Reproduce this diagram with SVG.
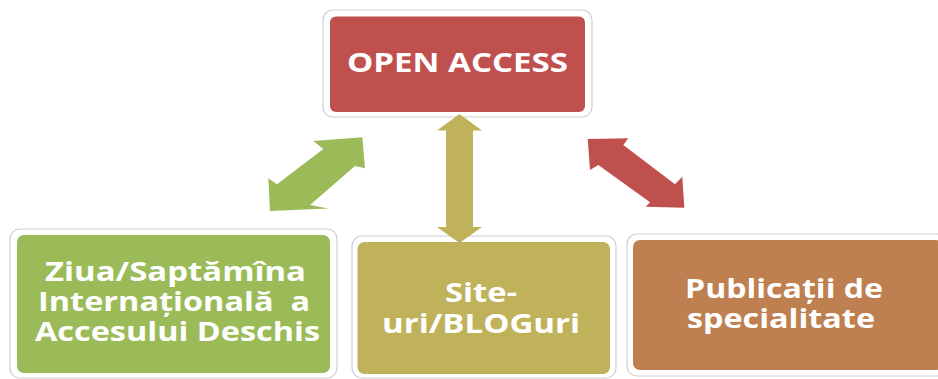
<svg xmlns="http://www.w3.org/2000/svg" width="938" height="379" viewBox="0 0 938 379">
  <style>
    .frame { fill: #ffffff; stroke: #cfcfcf; stroke-width: 1.2; }
    .lbl { font-family: "Open Sans", "Liberation Sans", "DejaVu Sans", sans-serif; font-weight: bold; font-size: 27px; fill: #ffffff; text-anchor: middle; }
    .red { fill: #C0504D; }
    .green { fill: #9BBB59; }
    .olive { fill: #BFB25A; }
    .brown { fill: #BE8050; }
  </style>
  <rect width="938" height="379" fill="#ffffff"/>

  <g id="node-open-access">
    <rect class="frame" x="323" y="10" width="269" height="107" rx="10"/>
    <rect class="red" x="330" y="16.5" width="255" height="95.5" rx="6"/>
    <text class="lbl" x="457.5" y="72" textLength="221" lengthAdjust="spacingAndGlyphs">OPEN ACCESS</text>
  </g>

  <g id="node-ziua">
    <rect class="frame" x="10" y="229" width="327" height="149" rx="10"/>
    <rect class="green" x="17" y="235" width="313" height="138" rx="7"/>
    <text class="lbl" x="175.5" y="281" textLength="261" lengthAdjust="spacingAndGlyphs">Ziua/Saptămîna</text>
    <text class="lbl" x="174" y="311" textLength="272" lengthAdjust="spacingAndGlyphs" xml:space="preserve">Internațională  a</text>
    <text class="lbl" x="177.5" y="341" textLength="285" lengthAdjust="spacingAndGlyphs">Accesului Deschis</text>
  </g>

  <g id="node-site">
    <rect class="frame" x="352" y="236" width="264" height="142" rx="10"/>
    <rect class="olive" x="357.5" y="242" width="252.5" height="132" rx="7"/>
    <text class="lbl" x="481" y="302" textLength="72" lengthAdjust="spacingAndGlyphs">Site-</text>
    <text class="lbl" x="481" y="333" textLength="198" lengthAdjust="spacingAndGlyphs">uri/BLOGuri</text>
  </g>

  <g id="node-publicatii">
    <rect class="frame" x="627" y="234" width="320" height="142" rx="10"/>
    <rect class="brown" x="633" y="240" width="310" height="130" rx="7"/>
    <text class="lbl" x="784" y="298" textLength="198" lengthAdjust="spacingAndGlyphs">Publicații de</text>
    <text class="lbl" x="781" y="328" textLength="188" lengthAdjust="spacingAndGlyphs">specialitate</text>
  </g>

  <g id="connectors">
    <polygon class="green" points="362.3,137.3 365,168.3 355,166 310,205 328.3,208.5 270,211 268.3,178.3 277,184.3 323.3,149 313.3,141"/>
    <polygon class="olive" points="459.5,114 482,130.5 473,130.5 473,227 482,227 459.5,243 437,227 446,227 446,130.5 437,130.5"/>
    <polygon class="red" points="587.7,139 628.3,138.3 623.3,145 675,184.3 682.3,176.7 684.3,207.7 645.7,206.7 650,202.3 598.3,165 590,170"/>
  </g>
</svg>
